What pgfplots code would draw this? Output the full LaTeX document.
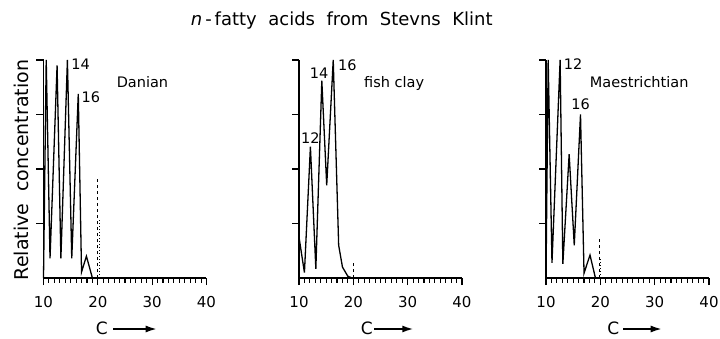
\documentclass[border=0pt]{standalone}
\usepackage{fontspec}
\setmainfont{DejaVu Sans}
\usepackage{pgfplots}
\pgfplotsset{compat=1.18}
\usetikzlibrary{arrows.meta}
\pgfplotsset{panel/.style={
  scale only axis, width=163pt, height=218pt,
  xmin=10, xmax=40, ymin=0, ymax=4,
  axis x line=bottom, axis y line=left,
  axis line style={-, line width=1.1pt},
  xtick={10,20,30,40}, minor xtick={11,12,...,39},
  ytick={1,2,3,4}, yticklabels={},
  tick align=outside, major tick length=7pt, minor tick length=4.5pt,
  every tick/.style={black, line width=1.1pt},
  every minor tick/.style={black, line width=1.1pt},
  tick label style={font=\fontsize{15}{15}\selectfont},
  xticklabel style={yshift=-8pt},
  /pgf/number format/assume math mode=true,
  clip=false,
  anchor=south west,
}}
\begin{document}
\begin{tikzpicture}
\path[use as bounding box] (0,0) rectangle (720pt,338pt);
% Danian
\begin{axis}[panel, at={(43.5pt,60pt)}]
\addplot[black, line width=1.3pt] coordinates {(10,0) (10.5,4.0) (11.2,0.36) (12.5,3.9) (13.2,0.36) (14.4,4.0) (15.2,0.36) (16.4,3.38) (17.0,0.11) (17.9,0.4) (19.0,0.0)};
\addplot[black, line width=1pt, dashed] coordinates {(20,0) (20,1.82)};
\addplot[black, line width=1pt, dotted] coordinates {(20.25,0) (20.25,1.1)};
\end{axis}
% fish clay
\begin{axis}[panel, at={(299pt,60pt)}]
\addplot[black, line width=1.3pt] coordinates {(10,0.75) (11.0,0.1) (12.1,2.41) (13.1,0.17) (14.2,3.62) (15.1,1.7) (16.3,4.0) (17.3,0.6) (18.0,0.2) (19.0,0.03) (19.8,0)};
\addplot[black, line width=1pt, dashed] coordinates {(20,0) (20,0.3)};
\end{axis}
% Maestrichtian
\begin{axis}[panel, at={(546pt,60pt)}]
\addplot[black, line width=1.3pt] coordinates {(10,0) (10.4,4.0) (11.1,0.28) (12.6,4.0) (13.1,0.26) (14.26,2.27) (15.2,0.6) (16.35,3.0) (17.0,0.09) (18.1,0.42) (19.1,0.0)};
\addplot[black, line width=1pt, dashed] coordinates {(19.8,0) (19.8,0.77)};
\addplot[black, line width=1pt, dotted] coordinates {(19.95,0) (19.95,0.38)};
\end{axis}
% texts
\node[anchor=base] at (341.7pt,312pt) {\fontsize{18}{18}\selectfont\textit{n}\,-\,fatty\ \ acids\ \ from\ \ Stevns\ \ Klint};
\node[anchor=base, rotate=90] at (28.3pt,168pt) {\fontsize{19}{19}\selectfont Relative\ \ concentration};
\begin{scope}[every node/.style={anchor=base, font=\fontsize{14.5}{14.5}\selectfont}]
\node at (80.7pt,268pt) {14};
\node at (90.8pt,235.7pt) {16};
\node at (142.5pt,250.7pt) {Danian};
\node at (310.3pt,194.7pt) {12};
\node at (319.2pt,259.7pt) {14};
\node at (347.3pt,267.3pt) {16};
\node at (394.2pt,250.7pt) {fish clay};
\node at (573pt,268pt) {12};
\node at (580.7pt,228pt) {16};
\node at (639.2pt,250.7pt) {Maestrichtian};
\end{scope}
\begin{scope}[every node/.style={anchor=base, font=\fontsize{17}{17}\selectfont}]
\node at (101.7pt,3.5pt) {C};
\node at (366.7pt,3.5pt) {C};
\node at (613.3pt,3.5pt) {C};
\end{scope}
\begin{scope}[line width=1.6pt, -{Latex[length=11pt,width=7pt]}]
\draw (113.3pt,9pt) -- (156.7pt,9pt);
\draw (374pt,9pt) -- (413.3pt,9pt);
\draw (623.3pt,9pt) -- (661.7pt,9pt);
\end{scope}
\end{tikzpicture}
\end{document}
